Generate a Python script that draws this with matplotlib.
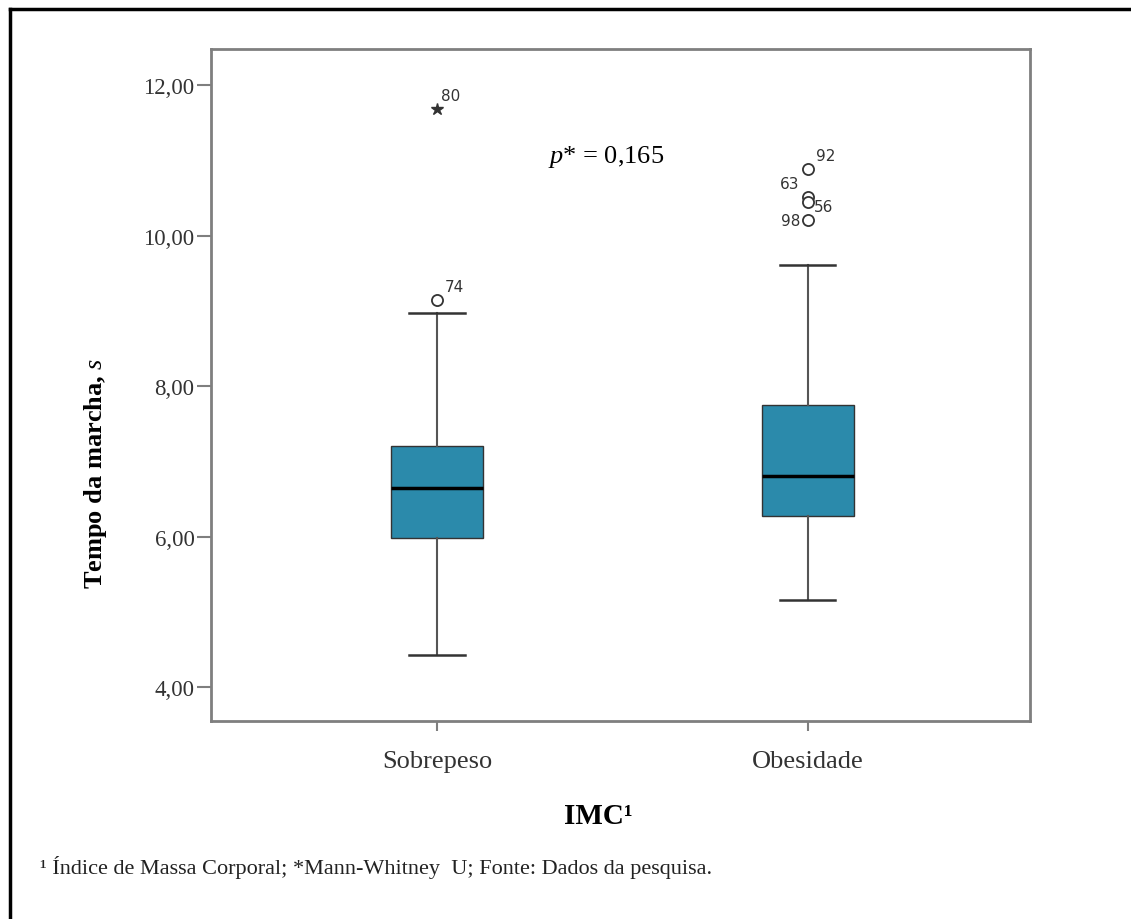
import matplotlib.pyplot as plt
from matplotlib.lines import Line2D

plt.rcParams['font.family'] = ['Liberation Serif', 'DejaVu Serif']
plt.rcParams['mathtext.fontset'] = 'custom'
plt.rcParams['mathtext.rm'] = 'Liberation Serif'
plt.rcParams['mathtext.it'] = 'Liberation Serif:italic'
plt.rcParams['mathtext.bf'] = 'Liberation Serif:bold'

# dados
grupos = ["Sobrepeso", "Obesidade"]
q1 = [5.98, 6.28]
mediana = [6.65, 6.81]
q3 = [7.21, 7.75]
whis_inf = [4.43, 5.16]
whis_sup = [8.97, 9.61]
outliers_valores = [[9.14], [10.89, 10.52, 10.45, 10.21]]
outliers_ids = [["74"], ["92", "63", "56", "98"]]
extremos_valores = [[11.68], []]
extremos_ids = [["80"], []]
yticks = [4, 6, 8, 10, 12]
yticklabels = ["4,00", "6,00", "8,00", "10,00", "12,00"]

cor_caixa = "#2B8AAB"
cor_moldura = "#7f7f7f"

fig = plt.figure(figsize=(11.31, 9.2), dpi=100)
ax = fig.add_axes([0.1866, 0.2152, 0.7241, 0.7304])

stats = []
for i in range(len(grupos)):
    stats.append({
        "label": grupos[i], "med": mediana[i], "q1": q1[i], "q3": q3[i],
        "whislo": whis_inf[i], "whishi": whis_sup[i], "fliers": [],
    })

ax.bxp(stats, positions=[1, 2], widths=0.248, patch_artist=True, showfliers=False,
       capwidths=0.15,
       boxprops=dict(facecolor=cor_caixa, edgecolor="#333333", linewidth=1),
       medianprops=dict(color="black", linewidth=2.5),
       whiskerprops=dict(color="#555555", linewidth=1.5),
       capprops=dict(color="#333333", linewidth=1.8))

# outliers e extremos com rótulos
desloc = {"74": (8, 6, "left"), "92": (8, 6, "left"), "63": (-8, 6, "right"),
          "56": (6, -5, "left"), "98": (-7, -1, "right"), "80": (4, 6, "left")}
for i in range(len(grupos)):
    for v, lab in zip(outliers_valores[i], outliers_ids[i]):
        ax.plot(i + 1, v, marker="o", markersize=8, markerfacecolor="white",
                markeredgecolor="#333333", markeredgewidth=1.3, linestyle="none")
        dx, dy, ha = desloc[lab]
        ax.annotate(lab, (i + 1, v), xytext=(dx, dy), textcoords="offset pixels",
                    ha=ha, va="bottom" if dy > 0 else "center", fontsize=11,
                    family="DejaVu Sans", color="#333333")
    for v, lab in zip(extremos_valores[i], extremos_ids[i]):
        ax.plot(i + 1, v, marker="*", markersize=9, color="#333333", linestyle="none")
        dx, dy, ha = desloc[lab]
        ax.annotate(lab, (i + 1, v), xytext=(dx, dy), textcoords="offset pixels",
                    ha=ha, va="bottom", fontsize=11, family="DejaVu Sans", color="#333333")

ax.set_xlim(0.39, 2.6)
ax.set_ylim(3.55, 12.48)
ax.set_yticks(yticks)
ax.set_yticklabels(yticklabels, fontsize=16.5)
ax.set_xticks([1, 2])
ax.set_xticklabels(grupos, fontsize=19)
ax.tick_params(axis="both", direction="out", width=1.5, color=cor_moldura,
               labelcolor="#333333")
ax.tick_params(axis="y", length=10, pad=2)
ax.tick_params(axis="x", length=7, pad=14)
for s in ax.spines.values():
    s.set_color(cor_moldura)
    s.set_linewidth(2)

ax.text(1.30, 11.06, r"$p$* = 0,165", fontsize=19, ha="left", va="center",
        color="black")

fig.text(0.0845, 0.486, r"Tempo da marcha, $s$", fontsize=19, fontweight="bold",
         rotation=90, ha="center", va="center")
fig.text(0.529, 0.112, "IMC¹", fontsize=21, fontweight="bold", ha="center", va="center")
fig.text(0.035, 0.057, "¹ Índice de Massa Corporal; *Mann-Whitney  U; Fonte: Dados da pesquisa.",
         fontsize=16, ha="left", va="center", color="#222222")

# moldura externa (só esquerda e topo aparecem)
fig.add_artist(Line2D([0.0084, 0.0084], [0, 0.989], color="black", linewidth=2.5,
                      transform=fig.transFigure))
fig.add_artist(Line2D([0.0084, 1], [0.989, 0.989], color="black", linewidth=2.5,
                      transform=fig.transFigure))

fig.savefig("out.png", dpi=100)
